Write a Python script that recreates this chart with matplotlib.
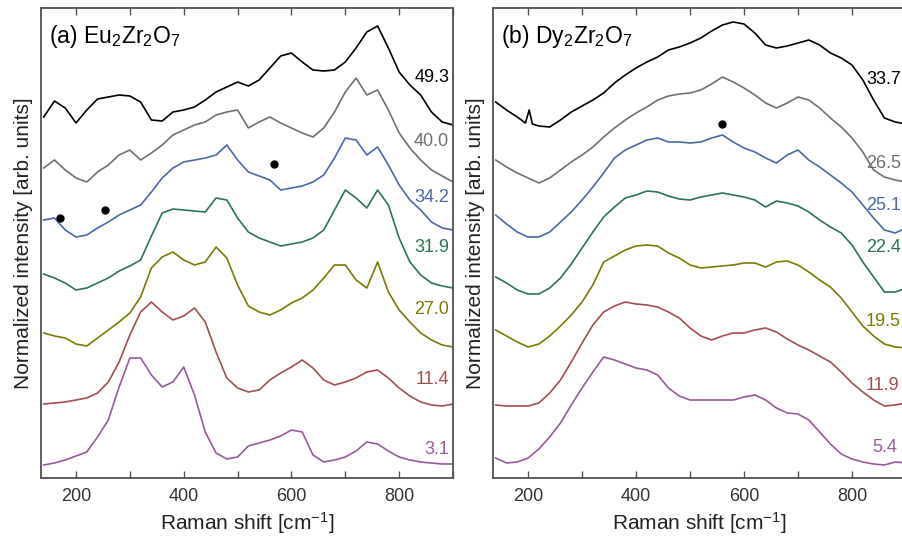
import numpy as np
import matplotlib
matplotlib.use("Agg")
import matplotlib.pyplot as plt
from matplotlib.ticker import MultipleLocator, NullFormatter

plt.rcParams['font.family'] = ['Liberation Sans', 'DejaVu Sans']
plt.rcParams['mathtext.default'] = 'regular'

# ---------------- data ----------------
# Raman shift sampling positions [cm^-1]
wn = list(range(140, 901, 20))
# Readings are depths measured down from the top of the panel (0..470 units);
# stacked intensity = PANEL_TOP - reading
PANEL_TOP = 478

# (a) Eu2Zr2O7
eu_labels = ["49.3", "40.0", "34.2", "31.9", "27.0", "11.4", "3.1"]
eu_493 = [117, 101, 108, 123, 110, 99, 97, 95, 96, 102, 120, 121, 112, 110, 107, 100, 92, 87, 82, 86,
          80, 68, 56, 53, 62, 70, 71, 70, 62, 48, 32, 26, 48, 72, 85, 95, 112, 122, 125]
eu_400 = [168, 160, 170, 178, 182, 172, 165, 155, 150, 160, 153, 145, 135, 130, 125, 122, 115, 112, 110, 128,
          122, 117, 123, 128, 133, 137, 128, 112, 92, 78, 95, 90, 110, 133, 148, 160, 170, 176, 182]
eu_342 = [220, 218, 230, 237, 235, 228, 222, 215, 210, 205, 192, 178, 168, 162, 160, 158, 155, 145, 160, 172,
          176, 180, 190, 188, 186, 182, 175, 158, 138, 140, 155, 147, 165, 185, 200, 210, 222, 228, 230]
eu_319 = [274, 278, 283, 290, 288, 283, 278, 271, 266, 260, 236, 213, 209, 210, 211, 212, 198, 200, 218, 232,
          238, 242, 246, 244, 242, 238, 230, 210, 190, 198, 208, 190, 205, 238, 262, 275, 283, 286, 288]
eu_270 = [333, 336, 338, 344, 346, 338, 330, 322, 313, 297, 268, 257, 252, 260, 265, 262, 247, 258, 285, 306,
          312, 315, 310, 303, 298, 290, 278, 265, 265, 280, 288, 262, 292, 310, 322, 333, 340, 345, 347]
eu_114 = [404, 403, 402, 400, 398, 393, 382, 362, 335, 312, 302, 312, 320, 316, 308, 322, 352, 378, 388, 392,
          390, 380, 373, 367, 360, 368, 380, 385, 382, 378, 372, 370, 378, 388, 396, 402, 405, 406, 404]
eu_31 = [465, 463, 460, 456, 452, 437, 420, 387, 358, 358, 375, 387, 382, 367, 395, 432, 453, 459, 457, 446,
         443, 440, 436, 430, 432, 455, 462, 460, 457, 451, 442, 444, 451, 457, 460, 462, 463, 464, 464]
eu_label_y = [77, 142, 197, 247, 310, 380, 450]
eu_dot_x = [170, 254, 567]
eu_dot_y = [218, 210, 164]

# (b) Dy2Zr2O7
dy_labels = ["33.7", "26.5", "25.1", "22.4", "19.5", "11.9", "5.4"]
wn_dy337 = [140, 160, 180, 195, 202, 208] + list(range(220, 901, 20))
dy_337 = [102, 110, 117, 123, 110, 124, 126, 127, 120, 112, 106, 100, 93, 83, 75, 68, 62, 57, 50, 47, 43,
          38, 31, 25, 22, 24, 33, 45, 48, 46, 43, 40, 45, 53, 58, 65, 80, 100, 118, 122, 124]
dy_265 = [160, 167, 173, 178, 183, 178, 170, 162, 155, 147, 137, 128, 120, 113, 107, 100, 96, 94, 93, 90,
          84, 77, 82, 88, 95, 103, 108, 103, 97, 100, 108, 118, 127, 138, 152, 170, 177, 180, 182]
dy_251 = [215, 224, 232, 237, 237, 232, 222, 212, 200, 187, 173, 158, 150, 145, 140, 138, 142, 142, 143, 142,
          138, 135, 142, 148, 152, 158, 163, 155, 150, 160, 167, 175, 183, 192, 205, 218, 230, 233, 228]
dy_224 = [277, 283, 290, 294, 294, 288, 278, 264, 248, 232, 217, 207, 198, 195, 191, 192, 196, 199, 200, 197,
          195, 193, 195, 197, 200, 207, 201, 203, 206, 212, 220, 227, 233, 245, 262, 277, 292, 292, 288]
dy_195 = [330, 336, 342, 347, 344, 336, 326, 315, 302, 285, 262, 256, 250, 246, 245, 246, 253, 258, 265, 268,
          267, 266, 265, 263, 263, 267, 262, 261, 265, 272, 280, 287, 298, 312, 326, 336, 344, 347, 348]
dy_119 = [405, 406, 406, 406, 403, 393, 380, 362, 343, 325, 312, 306, 302, 304, 305, 307, 312, 318, 328, 336,
          340, 336, 333, 333, 330, 328, 332, 339, 345, 350, 356, 362, 372, 383, 392, 400, 406, 405, 403]
dy_54 = [458, 463, 462, 458, 449, 437, 423, 405, 388, 372, 357, 360, 364, 368, 370, 375, 388, 396, 400, 400,
         400, 400, 400, 397, 395, 400, 408, 413, 414, 420, 432, 444, 454, 459, 462, 464, 465, 462, 463]
dy_label_y = [80, 163, 205, 247, 322, 385, 448]
dy_dot_x = [559]
dy_dot_y = [124]

colors = ["#000000", "#707070", "#4b69aa", "#2b7552", "#7c7a00", "#a34f4f", "#995a99"]

# ---------------- figure ----------------
W, H = 903, 541
fig = plt.figure(figsize=(W / 100, H / 100), dpi=100)
ax_a = fig.add_axes([41 / W, 63 / H, 412 / W, 470 / H])
ax_b = fig.add_axes([493 / W, 63 / H, 413 / W, 470 / H])

spine_col = "#505050"

def conv(vals):
    return PANEL_TOP - np.asarray(vals, dtype=float)

def style(ax, title):
    ax.set_xlim(135, 900)
    ax.set_ylim(0, 470)
    ax.xaxis.set_major_locator(MultipleLocator(200))
    ax.xaxis.set_minor_locator(MultipleLocator(100))
    ax.xaxis.set_minor_formatter(NullFormatter())
    ax.tick_params(axis='x', which='both', direction='in', top=True, bottom=True,
                   length=5, width=1.0, color=spine_col, labelsize=13, pad=7,
                   labelcolor="#333333")
    ax.set_yticks([])
    for s in ax.spines.values():
        s.set_color(spine_col)
        s.set_linewidth(1.3)
    ax.set_xlabel("Raman shift [cm$^{-1}$]", fontsize=15, color="#222222", labelpad=4)
    ax.set_ylabel("Normalized intensity [arb. units]", fontsize=15, color="#222222", labelpad=6)
    ax.text(0.02, 0.968, title, transform=ax.transAxes, ha='left', va='top', fontsize=16.5)

eu_series = [eu_493, eu_400, eu_342, eu_319, eu_270, eu_114, eu_31]
for vals, c in zip(eu_series, colors):
    ax_a.plot(wn, conv(vals), color=c, lw=1.2)
for lab, ly, c in zip(eu_labels, eu_label_y, colors):
    ax_a.text(893, PANEL_TOP - ly, lab, color=c, fontsize=13, ha='right', va='center')
ax_a.plot(eu_dot_x, conv(eu_dot_y), 'o', color='black', ms=5, ls='none')
style(ax_a, "(a) Eu$_2$Zr$_2$O$_7$")

dy_x = [wn_dy337] + [wn] * 6
dy_series = [dy_337, dy_265, dy_251, dy_224, dy_195, dy_119, dy_54]
for xs, vals, c in zip(dy_x, dy_series, colors):
    ax_b.plot(xs, conv(vals), color=c, lw=1.2)
for lab, ly, c in zip(dy_labels, dy_label_y, colors):
    ax_b.text(826 if len(lab) > 3 else 838, PANEL_TOP - ly, lab, color=c, fontsize=13,
              ha='left', va='center', clip_on=False)
ax_b.plot(dy_dot_x, conv(dy_dot_y), 'o', color='black', ms=5, ls='none')
style(ax_b, "(b) Dy$_2$Zr$_2$O$_7$")

fig.savefig("out.png", dpi=100)
